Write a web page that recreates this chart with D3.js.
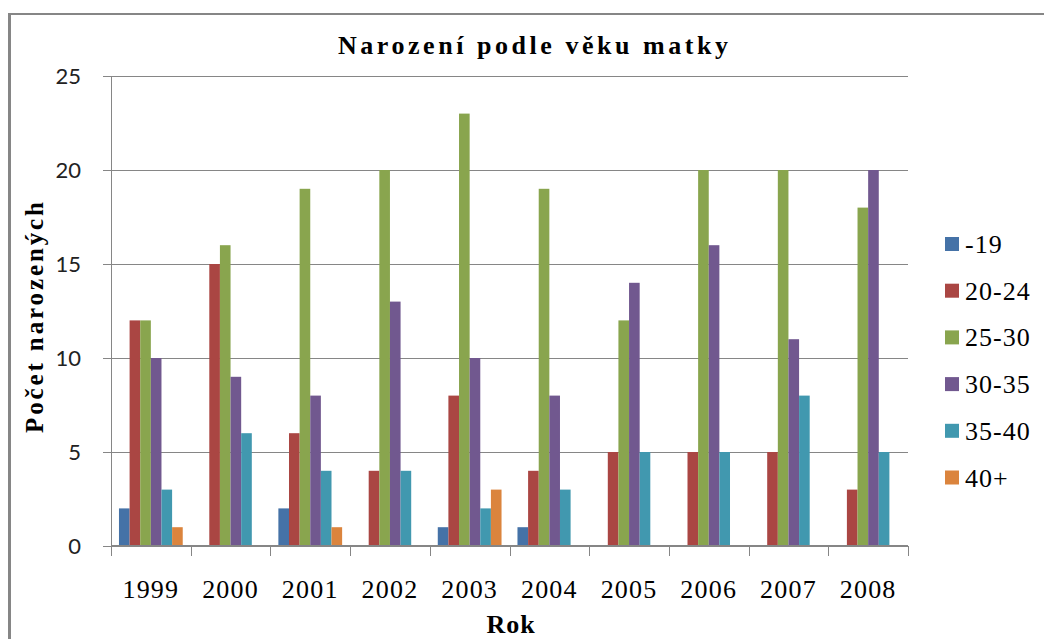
<!DOCTYPE html>
<html>
<head>
<meta charset="utf-8">
<script src="https://cdn.jsdelivr.net/npm/d3@7"></script>
<style>
  body { margin: 0; background: #fff; }
  .serif { font-family: "Liberation Serif", "DejaVu Serif", "Times New Roman", serif; }
</style>
</head>
<body>
<div id="chart"></div>
<script>
// data
const years = ["1999", "2000", "2001", "2002", "2003", "2004", "2005", "2006", "2007", "2008"];
const seriesNames = ["-19", "20-24", "25-30", "30-35", "35-40", "40+"];
const under19 = [2, 0, 2, 0, 1, 1, 0, 0, 0, 0];
const age20to24 = [12, 15, 6, 4, 8, 4, 5, 5, 5, 3];
const age25to30 = [12, 16, 19, 20, 23, 19, 12, 20, 20, 18];
const age30to35 = [10, 9, 8, 13, 10, 8, 14, 16, 11, 20];
const age35to40 = [3, 6, 4, 4, 2, 3, 5, 5, 8, 5];
const over40 = [1, 0, 1, 0, 3, 0, 0, 0, 0, 0];
const yTicks = [0, 5, 10, 15, 20, 25];

const seriesValues = [under19, age20to24, age25to30, age30to35, age35to40, over40];
const colors = ["#4572A7", "#AA4643", "#89A54E", "#71588F", "#4198AF", "#DB843D"];

const width = 1044, height = 639;
const plot = {left: 111, right: 908, top: 76, bottom: 546};
const grid = "#868686";

const svg = d3.select("#chart").append("svg")
    .attr("width", width)
    .attr("height", height);

// cadre du graphique
svg.append("line")
    .attr("x1", 9.5).attr("x2", 9.5).attr("y1", 13).attr("y2", height)
    .style("stroke", grid).style("stroke-width", 3);
svg.append("line")
    .attr("x1", 8).attr("x2", width).attr("y1", 14).attr("y2", 14)
    .style("stroke", grid).style("stroke-width", 2);

// scales
const x0 = d3.scaleBand().domain(years).range([plot.left, plot.right]).padding(0);
const x1 = d3.scaleBand().domain(seriesNames).range([0, x0.bandwidth()])
    .paddingInner(0).paddingOuter(0.75);
const y = d3.scaleLinear().domain([0, 25]).range([plot.bottom, plot.top]);

// gridlines + axe Y
const yAxis = svg.append("g")
    .attr("transform", "translate(" + plot.left + ",0)")
    .call(d3.axisLeft(y).tickValues(yTicks).tickSize(8).tickPadding(22));
yAxis.select(".domain").remove();
yAxis.selectAll(".tick line").style("stroke", grid);
yAxis.selectAll(".tick text")
    .style("font-family", "Lato, 'Open Sans', sans-serif")
    .style("font-size", "22px")
    .style("fill", "#222");

svg.append("g").selectAll("line")
    .data(yTicks.filter(d => d > 0))
    .enter().append("line")
    .attr("x1", plot.left).attr("x2", plot.right)
    .attr("y1", d => Math.round(y(d)) + 0.5).attr("y2", d => Math.round(y(d)) + 0.5)
    .style("stroke", grid).style("stroke-width", 1);

svg.append("line")
    .attr("x1", plot.left + 0.5).attr("x2", plot.left + 0.5)
    .attr("y1", plot.top).attr("y2", plot.bottom)
    .style("stroke", grid);

// barres
const groups = svg.append("g").selectAll("g")
    .data(years)
    .enter().append("g")
    .attr("transform", d => "translate(" + x0(d) + ",0)");

groups.selectAll("rect")
    .data((d, i) => seriesNames.map((s, j) => ({s: s, v: seriesValues[j][i], c: colors[j]})))
    .enter().append("rect")
    .attr("x", d => x1(d.s))
    .attr("width", x1.bandwidth())
    .attr("y", d => y(d.v))
    .attr("height", d => y(0) - y(d.v))
    .style("fill", d => d.c);

// axe X
const xAxis = svg.append("g")
    .attr("transform", "translate(0," + plot.bottom + ")");
xAxis.append("line")
    .attr("x1", plot.left).attr("x2", plot.right)
    .style("stroke", grid).style("stroke-width", 2);
xAxis.selectAll(".tk")
    .data(years.map(d => x0(d)).concat([plot.right]))
    .enter().append("line")
    .attr("class", "tk")
    .attr("x1", d => Math.round(d) + 0.5).attr("x2", d => Math.round(d) + 0.5)
    .attr("y1", 0).attr("y2", 10)
    .style("stroke", grid);
xAxis.selectAll("text")
    .data(years)
    .enter().append("text")
    .attr("class", "serif")
    .attr("x", d => x0(d) + x0.bandwidth() / 2)
    .attr("y", 52)
    .attr("text-anchor", "middle")
    .style("font-size", "26px")
    .style("letter-spacing", "1.2px")
    .text(d => d);

// titres
svg.append("text")
    .attr("class", "serif")
    .attr("x", 338).attr("y", 54)
    .attr("textLength", 390)
    .attr("lengthAdjust", "spacing")
    .style("font-weight", "bold")
    .style("font-size", "26px")
    .text("Narození podle věku matky");

svg.append("text")
    .attr("class", "serif")
    .attr("transform", "translate(43,433) rotate(-90)")
    .attr("textLength", 231)
    .attr("lengthAdjust", "spacing")
    .style("font-weight", "bold")
    .style("font-size", "25px")
    .text("Počet narozených");

svg.append("text")
    .attr("class", "serif")
    .attr("x", 511).attr("y", 633)
    .attr("text-anchor", "middle")
    .style("font-weight", "bold")
    .style("font-size", "26px")
    .style("letter-spacing", "1px")
    .text("Rok");

// légende
const legend = svg.append("g").attr("transform", "translate(945,237)");
const item = legend.selectAll("g")
    .data(seriesNames)
    .enter().append("g")
    .attr("transform", (d, i) => "translate(0," + (i * 46.7) + ")");
item.append("rect")
    .attr("width", 14).attr("height", 14)
    .style("fill", (d, i) => colors[i]);
item.append("text")
    .attr("class", "serif")
    .attr("x", 20).attr("y", 16)
    .style("font-size", "26px")
    .style("letter-spacing", "1px")
    .text(d => d);
</script>
</body>
</html>
